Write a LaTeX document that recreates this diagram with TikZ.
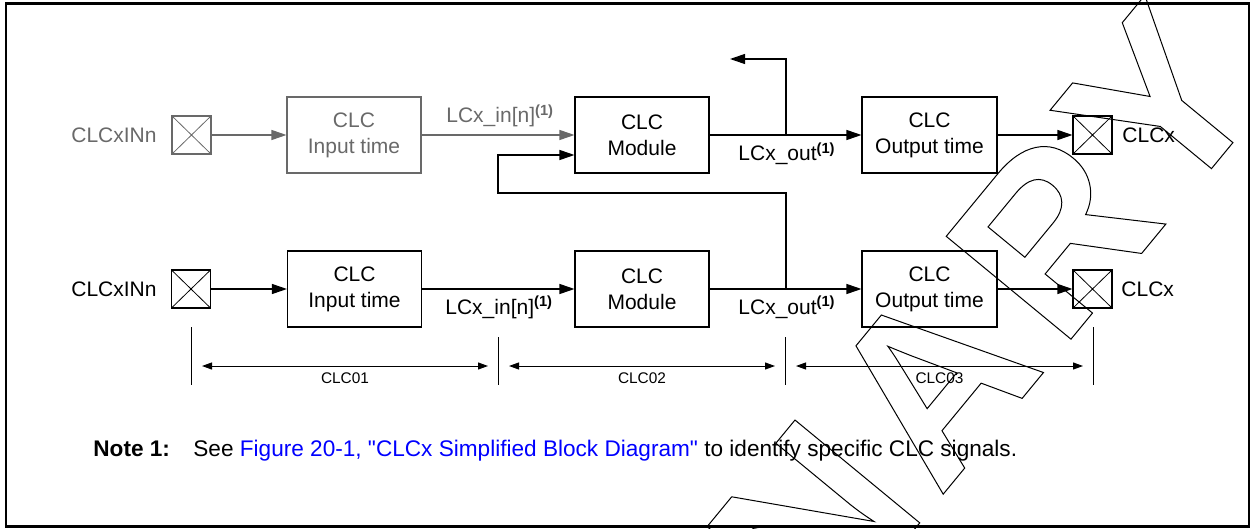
\documentclass[tikz,border=0pt]{standalone}
\usepackage{fontspec}
\setmainfont{Liberation Sans}[Ligatures=TeXOff]
\usetikzlibrary{arrows.meta}
\definecolor{gr}{RGB}{105,105,105}
\definecolor{lnk}{RGB}{0,0,255}
\newcommand\wmarktext[1]{\special{pdf:literal direct 0.5 w 1 Tr}#1\special{pdf:literal direct 0 Tr}}
\begin{document}
\begin{tikzpicture}[x=0.5pt,y=-0.5pt,
  every node/.style={inner sep=0pt, font=\fontsize{10.5}{13}\selectfont},
  blk/.style={draw, line width=0.55pt, minimum width=67pt, minimum height=38pt, align=center},
  xbox/.style={draw=#1, line width=0.55pt, minimum width=19.5pt, minimum height=19pt,
    path picture={\draw[#1, line width=0.4pt] (path picture bounding box.north west)--(path picture bounding box.south east)
      (path picture bounding box.north east)--(path picture bounding box.south west);}},
  xbox/.default=black,
  sig/.style={line width=0.55pt, -{Triangle[length=7.5pt,width=5pt]}},
  dimarr/.style={line width=0.5pt, {Triangle[length=5pt,width=3.5pt]}-{Triangle[length=5pt,width=3.5pt]}, shorten <=5.5pt, shorten >=5pt},
  tickline/.style={line width=0.5pt},
  dimlbl/.style={font=\fontsize{7.7}{9}\selectfont},
  notefont/.style={font=\fontsize{11.3}{13}\selectfont},
  wm/.style={font=\fontsize{117.5}{120}\selectfont\bfseries, rotate=50.5, anchor=base west},
]
\useasboundingbox (0,0) rectangle (1251,529);
\draw[line width=1.25pt] (6,3.5) rectangle (1249,526.5);

% ---------- top row (grey input) ----------
\node[text=gr, anchor=east] (lblInT) at (157,135) {CLCxINn};
\node[xbox=gr] (xT) at (191.5,135) {};
\node[blk, draw=gr, text=gr] (itT) at (354,135) {CLC\\Input time};
\node[blk] (modT) at (642,135) {CLC\\Module};
\node[blk, minimum width=67.5pt] (otT) at (929.5,135) {CLC\\Output time};
\node[xbox] (xoT) at (1092.5,135) {};
\node[anchor=west] (lblOutT) at (1122,135) {CLCx};
\node[text=gr, anchor=base west] (linT) at (446,123) {LCx\_in[n]\textsuperscript{\bfseries(1)}};
\node[anchor=base west] (loutT) at (738,161) {LCx\_out\textsuperscript{\bfseries(1)}};

\draw[sig, gr] (xT.east) -- (itT.west);
\draw[sig, gr] (itT.east) -- (modT.west);
\draw[sig] (modT.east) -- (otT.west);
\draw[sig] (otT.east) -- (xoT.west);
\coordinate (brT) at (786,135);
\coordinate (brTup) at (786,59);
\coordinate (brTend) at (730,59);
\draw[sig] (brT) -- (brTup) -- (brTend);

% ---------- bottom row ----------
\node[anchor=east] (lblInB) at (157,289) {CLCxINn};
\node[xbox] (xB) at (191,289) {};
\node[blk] (itB) at (354.5,289) {CLC\\Input time};
\node[blk] (modB) at (642,289) {CLC\\Module};
\node[blk, minimum width=67.5pt] (otB) at (929.5,289) {CLC\\Output time};
\node[xbox] (xoB) at (1092.5,289) {};
\node[anchor=west] (lblOutB) at (1121,289) {CLCx};
\node[anchor=base west] (linB) at (445,314) {LCx\_in[n]\textsuperscript{\bfseries(1)}};
\node[anchor=base west] (loutB) at (738,314) {LCx\_out\textsuperscript{\bfseries(1)}};

\draw[sig] (xB.east) -- (itB.west);
\draw[sig] (itB.east) -- (modB.west);
\draw[sig] (modB.east) -- (otB.west);
\draw[sig] (otB.east) -- (xoB.west);

% feedback from bottom LCx_out to top module
\coordinate (fbB) at (786,289);
\coordinate (fb1) at (786,193);
\coordinate (fb2) at (498,193);
\coordinate (fb3) at (498,155);
\draw[sig] (fbB) -- (fb1) -- (fb2) -- (fb3) -- (fb3 -| modT.west);

% ---------- dimension ticks ----------
\coordinate (t1a) at (191,327);  \coordinate (t1b) at (191,385);
\coordinate (t2a) at (498,337);  \coordinate (t2b) at (498,385);
\coordinate (t3a) at (785,337);  \coordinate (t3b) at (785,385);
\coordinate (t4a) at (1093,327); \coordinate (t4b) at (1093,385);
\draw[tickline] (t1a) -- (t1b);
\draw[tickline] (t2a) -- (t2b);
\draw[tickline] (t3a) -- (t3b);
\draw[tickline] (t4a) -- (t4b);
\coordinate (d1) at (191,366);
\coordinate (d2) at (498,366);
\coordinate (d3) at (785,366);
\coordinate (d4) at (1093,366);
\draw[dimarr] (d1) -- (d2);
\draw[dimarr] (d2) -- (d3);
\draw[dimarr] (d3) -- (d4);
\node[dimlbl] (c1) at (345,378.5) {CLC01};
\node[dimlbl] (c2) at (642,378.5) {CLC02};
\node[dimlbl] (c3) at (939.5,378.5) {CLC03};

% ---------- note ----------
\node[notefont, anchor=base west] (noteA) at (93,456) {\bfseries Note 1:};
\node[notefont, anchor=base west] (noteB) at (193,456) {See \textcolor{lnk}{Figure 20-1, "CLCx Simplified Block Diagram"} to identify specific CLC signals.};

% ---------- watermark (outlined letters) ----------
\node[wm] (wmN) at (821.6,641.9) {\wmarktext{N}};
\node[wm] (wmA) at (939.2,499.0) {\wmarktext{A}};
\node[wm] (wmR) at (1060.7,351.6) {\wmarktext{R}};
\node[wm] (wmY) at (1172.0,216.5) {\wmarktext{Y}};
\end{tikzpicture}
\end{document}
